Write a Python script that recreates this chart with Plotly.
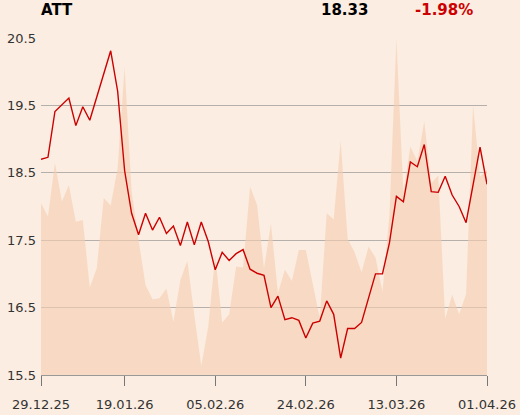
import plotly.graph_objects as go

dates = [
    "29.12.25", "30.12.25", "02.01.26", "05.01.26", "07.01.26", "08.01.26", "09.01.26",
    "12.01.26", "13.01.26", "14.01.26", "15.01.26", "16.01.26", "19.01.26",
    "20.01.26", "21.01.26", "22.01.26", "23.01.26", "26.01.26", "27.01.26", "28.01.26",
    "29.01.26", "30.01.26", "02.02.26", "03.02.26", "04.02.26", "05.02.26",
    "06.02.26", "09.02.26", "10.02.26", "11.02.26", "12.02.26", "13.02.26", "16.02.26",
    "17.02.26", "18.02.26", "19.02.26", "20.02.26", "23.02.26", "24.02.26",
    "25.02.26", "26.02.26", "27.02.26", "02.03.26", "03.03.26", "04.03.26", "05.03.26",
    "06.03.26", "09.03.26", "10.03.26", "11.03.26", "12.03.26", "13.03.26",
    "16.03.26", "17.03.26", "18.03.26", "19.03.26", "20.03.26", "23.03.26", "24.03.26",
    "25.03.26", "26.03.26", "27.03.26", "30.03.26", "31.03.26", "01.04.26",
]

price = [
    18.70, 18.73, 19.41, 19.51, 19.61, 19.20, 19.48, 19.28, 19.62, 19.97,
    20.31, 19.71, 18.53, 17.90, 17.58, 17.90, 17.65, 17.84, 17.60, 17.71,
    17.42, 17.77, 17.43, 17.77, 17.48, 17.06, 17.32, 17.20, 17.30, 17.36,
    17.07, 17.01, 16.98, 16.50, 16.67, 16.32, 16.35, 16.31, 16.05, 16.27,
    16.30, 16.60, 16.40, 15.75, 16.19, 16.19, 16.28, 16.64, 17.00, 17.00,
    17.46, 18.15, 18.07, 18.66, 18.59, 18.92, 18.22, 18.21, 18.45, 18.17,
    18.00, 17.76, 18.33, 18.88, 18.33,
]

volume = [
    51.0, 47.0, 62.9, 51.5, 56.4, 45.5, 46.0, 26.0, 31.7, 52.5,
    50.3, 61.4, 91.4, 54.5, 40.1, 26.7, 22.5, 22.8, 25.7, 15.8,
    28.2, 33.9, 17.8, 2.7, 14.4, 35.4, 15.6, 18.0, 32.2, 31.9,
    55.9, 50.5, 31.7, 44.9, 24.3, 31.2, 27.9, 37.1, 37.1, 26.7,
    17.0, 48.0, 46.2, 69.5, 40.4, 36.4, 30.5, 38.1, 34.9, 24.8,
    47.5, 99.8, 54.0, 67.8, 63.4, 75.2, 56.9, 59.2, 16.8, 23.8,
    18.0, 24.0, 80.0, 58.9, 60.9,
]

x_ticks = ["29.12.25", "19.01.26", "05.02.26", "24.02.26", "13.03.26", "01.04.26"]
y_ticks = [15.5, 16.5, 17.5, 18.5, 19.5, 20.5]

symbol = "ATT"
last_price = "18.33"
change = "-1.98%"

BG = "#fbede1"
RED = "#cc0000"

fig = go.Figure()
# shaded area on the main (hidden) axis, drawn underneath
fig.add_trace(go.Scatter(
    x=dates, y=volume, yaxis="y", mode="lines", line=dict(width=0),
    fill="tozeroy", fillcolor="rgba(246,206,178,0.62)", hoverinfo="skip",
))
# price line on the overlaying axis, drawn on top
fig.add_trace(go.Scatter(
    x=dates, y=price, yaxis="y2", mode="lines", line=dict(color=RED, width=1.4),
))

fig.update_layout(
    width=520, height=415,
    margin=dict(l=41, r=33, t=38, b=40, autoexpand=False),
    paper_bgcolor=BG, plot_bgcolor=BG,
    showlegend=False,
    font=dict(family="DejaVu Sans", size=13, color="#333333"),
    xaxis=dict(
        type="category", range=[0, len(dates) - 1], automargin=False,
        tickmode="array", tickvals=x_ticks, ticktext=x_ticks,
        showgrid=False, showline=True, linecolor="#999999", linewidth=1,
        ticks="outside", ticklen=10, tickcolor="#777777", tickwidth=1,
        ticklabelstandoff=7,
        tickfont=dict(size=13, color="#333333"),
    ),
    yaxis=dict(
        range=[0, 100], visible=False, showgrid=False, zeroline=False,
        automargin=False,
    ),
    yaxis2=dict(
        range=[15.5, 20.5], overlaying="y", side="left", automargin=False,
        tickvals=y_ticks, ticktext=[f"{v:.1f}" for v in y_ticks],
        showgrid=True, gridcolor="#b5b0ab", gridwidth=1,
        zeroline=False, showline=False, ticks="",
        ticklabelstandoff=4,
        tickfont=dict(size=13, color="#333333"),
    ),
    annotations=[
        dict(text=f"<b>{symbol}</b>", xref="paper", yref="paper", x=-0.0045, y=1.084,
             xanchor="left", yanchor="middle", showarrow=False,
             font=dict(family="DejaVu Sans", size=15, color="#000000")),
        dict(text=f"<b>{last_price}</b>", xref="paper", yref="paper", x=0.737, y=1.084,
             xanchor="right", yanchor="middle", showarrow=False,
             font=dict(family="DejaVu Sans", size=15, color="#000000")),
        dict(text=f"<b>{change}</b>", xref="paper", yref="paper", x=0.834, y=1.084,
             xanchor="left", yanchor="middle", showarrow=False,
             font=dict(family="DejaVu Sans", size=15, color=RED)),
    ],
)

fig.write_html(
    "out.html",
    config={"displayModeBar": False},
    post_script="document.body.style.margin='0';document.body.style.background='#fbede1';",
)
